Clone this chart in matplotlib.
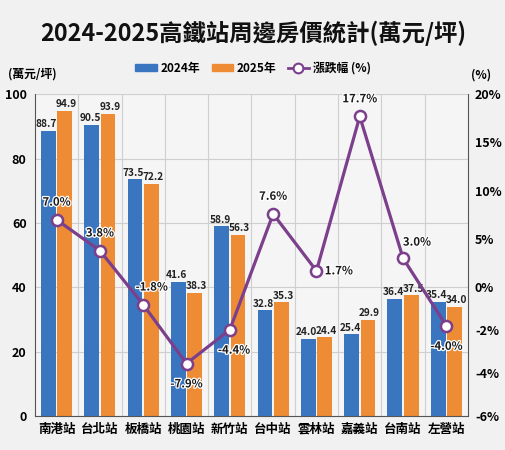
import matplotlib
matplotlib.use('Agg')
from matplotlib import pyplot as plt
from matplotlib import patheffects as pe
from matplotlib.patches import Patch
from matplotlib.lines import Line2D
import numpy as np

plt.rcParams['font.family'] = ['Noto Sans CJK TC', 'DejaVu Sans']

# ********** Data **********

stations = ['南港站', '台北站', '板橋站', '桃園站', '新竹站', '台中站', '雲林站', '嘉義站', '台南站', '左營站']
price2024 = [88.7, 90.5, 73.5, 41.6, 58.9, 32.8, 24.0, 25.4, 36.4, 35.4]
price2025 = [94.9, 93.9, 72.2, 38.3, 56.3, 35.3, 24.4, 29.9, 37.5, 34.0]
change = [7.0, 3.8, -1.8, -7.9, -4.4, 7.6, 1.7, 17.7, 3.0, -4.0]

# right-axis labels as printed on the chart
pct_tick_labels = ['20%', '15%', '10%', '5%', '0%', '-2%', '-4%', '-6%']

# ********** Style **********

blue = '#3a76c0'
orange = '#ee8c35'
purple = '#7b3f8c'
bg = '#f1f1f1'
grid = '#cfcfcf'

# where each change label sits relative to its marker (points)
label_offsets = [(0, 8), (0, 8), (6, 8), (0, -10), (3, -10), (0, 8), (6, 0), (0, 8), (10, 7), (0, -10)]
label_align = [('center', 'bottom'), ('center', 'bottom'), ('center', 'bottom'), ('center', 'top'),
			   ('center', 'top'), ('center', 'bottom'), ('left', 'center'), ('center', 'bottom'),
			   ('center', 'bottom'), ('center', 'top')]

# ********** Figure **********

fig = plt.figure(figsize=(5.06, 4.5), dpi=100, facecolor=bg)
ax = fig.add_axes([0.069, 0.0756, 0.856, 0.715])
ax.set_facecolor('#f5f5f5')

x = np.arange(len(stations))
w = 0.34
b1 = ax.bar(x - 0.19, price2024, w, color=blue, zorder=2)
b2 = ax.bar(x + 0.19, price2025, w, color=orange, zorder=2)

for bars, vals, dx in ((b1, price2024, -1.2), (b2, price2025, 1.2)):
	for r, v in zip(bars, vals):
		ax.annotate('{:.1f}'.format(v), xy=(r.get_x() + r.get_width() / 2, v), xytext=(dx, 1.2),
					textcoords='offset points', ha='center', va='bottom', fontsize=7.3,
					fontweight='bold', color='#222222', zorder=3)

ax.set_xlim(-0.5, len(stations) - 0.5)
ax.set_ylim(0, 100)
ax.set_yticks([0, 20, 40, 60, 80, 100])
ax.set_xticks(x)
ax.set_xticklabels(stations, fontsize=9, fontweight='bold')
ax.set_xticks(x[:-1] + 0.5, minor=True)
ax.tick_params(axis='x', which='both', length=0, pad=5)
ax.tick_params(axis='y', length=0, labelsize=9, pad=6)
for lab in ax.get_yticklabels():
	lab.set_fontweight('bold')
ax.grid(axis='y', color=grid, linewidth=0.8, zorder=0)
ax.grid(axis='x', which='minor', color=grid, linewidth=0.8, zorder=0)
ax.set_axisbelow(True)
for s in ('top', 'right'):
	ax.spines[s].set_visible(False)
ax.spines['left'].set_color('#555555')
ax.spines['bottom'].set_color('#555555')

# ***** change line on right axis *****

ax2 = ax.twinx()
ax2.set_ylim(-40 / 3, 20)
ax2.plot(x, change, color=purple, linewidth=2.3, marker='o', markersize=8,
		 markerfacecolor='white', markeredgecolor=purple, markeredgewidth=1.8, zorder=4)
for i, v in enumerate(change):
	ha, va = label_align[i]
	ax2.annotate('{:.1f}%'.format(v), xy=(i, v), xytext=label_offsets[i], textcoords='offset points',
				 ha=ha, va=va, fontsize=8.2, fontweight='bold', color='#1a1a1a', zorder=5,
				 path_effects=[pe.withStroke(linewidth=1.8, foreground='white')])

ax2.set_yticks([20, 15, 10, 5, 0, -40 / 9, -80 / 9, -40 / 3])
ax2.set_yticklabels(pct_tick_labels)
ax2.tick_params(axis='y', length=0, labelsize=9, pad=5)
for lab in ax2.get_yticklabels():
	lab.set_fontweight('bold')
for s in ('top', 'left', 'bottom'):
	ax2.spines[s].set_visible(False)
ax2.spines['right'].set_color('#555555')

# ***** Titles and legend *****

fig.text(0.5, 0.925, '2024-2025高鐵站周邊房價統計(萬元/坪)', ha='center', va='center',
		 fontsize=16.8, fontweight='bold', color='#111111')
fig.text(0.016, 0.836, '(萬元/坪)', ha='left', va='center', fontsize=8.5, fontweight='bold')
fig.text(0.97, 0.834, '(%)', ha='right', va='center', fontsize=8.5, fontweight='bold')

handles = [Patch(color=blue), Patch(color=orange),
		   Line2D([], [], color=purple, linewidth=2, marker='o', markersize=7,
				  markerfacecolor='white', markeredgecolor=purple, markeredgewidth=1.5)]
leg = fig.legend(handles, ['2024年', '2025年', '漲跌幅 (%)'], loc='center', bbox_to_anchor=(0.5, 0.848),
				 ncol=3, frameon=False, fontsize=8.5, handlelength=1.8, handleheight=0.6,
				 columnspacing=1.0, handletextpad=0.3)
for t in leg.get_texts():
	t.set_fontweight('bold')

fig.savefig('out.png', dpi=100, facecolor=bg)
